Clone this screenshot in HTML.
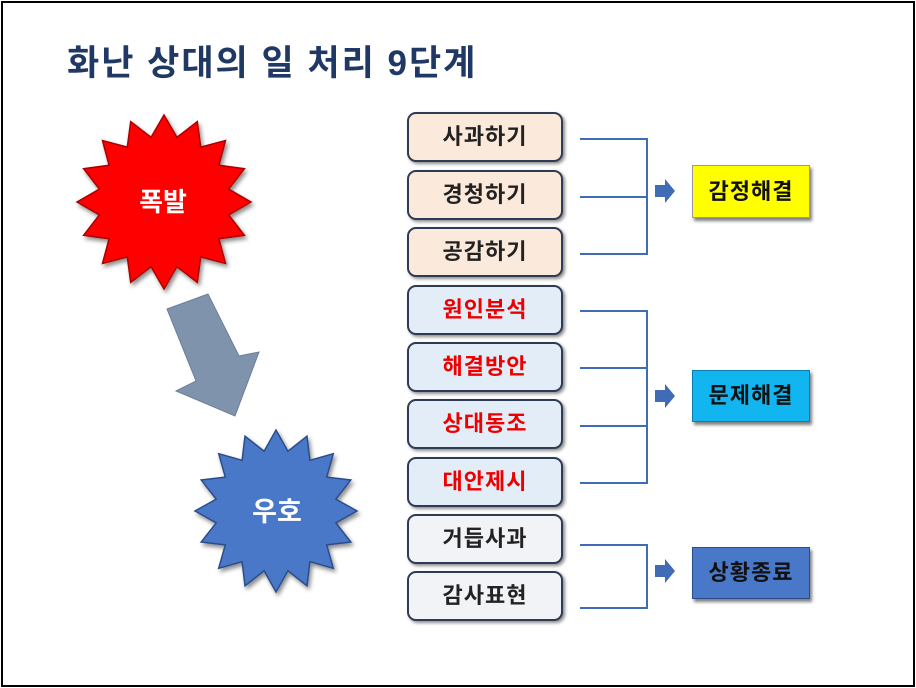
<!DOCTYPE html>
<html><head><meta charset="utf-8"><style>
body{margin:0;width:916px;height:688px;background:#fff;overflow:hidden;font-family:"Liberation Sans","Noto Sans CJK KR",sans-serif}
.frame{position:absolute;left:1px;top:1px;width:910px;height:682px;border:2px solid #000}
.title{position:absolute;left:67px;top:42px;font-size:35px;font-weight:bold;color:#1f3864;letter-spacing:2px;line-height:44px}
.b{position:absolute;left:407px;width:152px;height:46px;border:2.5px solid #2e3b55;border-radius:9px;box-shadow:2px 2px 3px rgba(0,0,0,.45);font-size:22px;font-weight:bold;text-align:center;line-height:46px;color:#222;letter-spacing:1px}
.p{background:#fbeadb}.bl{background:#e3edf8;color:#e00}.g{background:#f2f3f6}
.r{position:absolute;left:692px;width:116px;height:50px;font-size:22px;font-weight:bold;text-align:center;line-height:50px;color:#111;box-shadow:2px 3px 3px rgba(0,0,0,.5);letter-spacing:1px}
</style></head><body>
<div class="frame"></div>
<div class="title">화난 상대의 일 처리 9단계</div>
<svg width="916" height="688" style="position:absolute;left:0;top:0">
<defs><filter id="sh"><feDropShadow dx="2" dy="3" stdDeviation="2" flood-opacity="0.45"/></filter></defs>
<polygon id="s1" fill="#ff0000" stroke="#a00" stroke-width="1.5" filter="url(#sh)"/>
<polygon id="s2" fill="#4a78c8" stroke="#2b4d8a" stroke-width="1.5" filter="url(#sh)"/>
<polygon points="167,309 208,294 239,356 259,352 235,416 176,391 196,381" fill="#7f93ad" stroke="#6a7f9a"/>
<text x="163" y="211" font-size="26" font-weight="bold" fill="#fff" text-anchor="middle" font-family="Liberation Sans,Noto Sans CJK KR,sans-serif">폭발</text>
<text x="277" y="521" font-size="27" font-weight="bold" fill="#fff" text-anchor="middle" font-family="Liberation Sans,Noto Sans CJK KR,sans-serif">우호</text>
<g stroke="#3f6cb5" stroke-width="2" fill="none">
<path d="M580 139H647V254H580M580 197H647"/>
<path d="M580 311H647V483H580M580 368H647M580 426H647"/>
<path d="M580 545H647V608H580"/>
</g>
<g fill="#3f6cb5">
<polygon points="655,185 665,185 665,179 675,191 665,203 665,197 655,197"/>
<polygon points="655,390 665,390 665,384 675,396 665,408 665,402 655,402"/>
<polygon points="655,565 665,565 665,559 675,571 665,583 665,577 655,577"/>
</g>
</svg>
<div class="b p" style="top:112px">사과하기</div>
<div class="b p" style="top:170px">경청하기</div>
<div class="b p" style="top:227px">공감하기</div>
<div class="b bl" style="top:285px">원인분석</div>
<div class="b bl" style="top:342px">해결방안</div>
<div class="b bl" style="top:399px">상대동조</div>
<div class="b bl" style="top:457px">대안제시</div>
<div class="b g" style="top:514px">거듭사과</div>
<div class="b g" style="top:571px">감사표현</div>
<div class="r" style="top:165px;height:51px;line-height:51px;background:#ffff00;border:1px solid #999">감정해결</div>
<div class="r" style="top:370px;background:#11b5ef;border:1px solid #0a7fae">문제해결</div>
<div class="r" style="top:547px;background:#4a78c8;border:1px solid #2b4d8a">상황종료</div>
<script>
function star(id,cx,cy,R,r,n){var p=[];for(var i=0;i<2*n;i++){var a=Math.PI*i/n-Math.PI/2;var rr=i%2?r:R;p.push((cx+rr*Math.cos(a)).toFixed(1)+","+(cy+rr*Math.sin(a)).toFixed(1));}document.getElementById(id).setAttribute("points",p.join(" "));}
star("s1",164,202,87,66,16);
star("s2",276,511,81,61,16);
</script>
</body></html>
